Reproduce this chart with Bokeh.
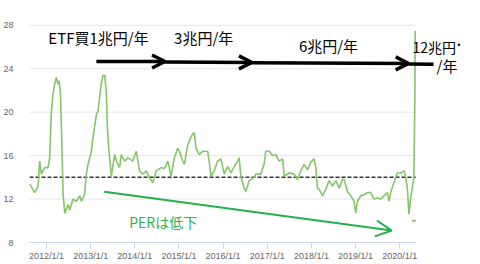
import pandas as pd
from bokeh.plotting import figure
from bokeh.models import Range1d, FixedTicker, Label, Arrow, OpenHead
from bokeh.embed import file_html
from bokeh.resources import INLINE

# ---- data ----
dates = [
    "2011-08-15", "2011-09-26", "2011-10-24", "2011-11-06", "2011-11-20", "2011-12-17",
    "2012-01-14", "2012-01-28", "2012-02-11", "2012-02-25", "2012-03-09", "2012-03-23",
    "2012-04-06", "2012-04-15", "2012-04-26", "2012-05-04", "2012-05-18", "2012-06-01",
    "2012-06-28", "2012-07-12", "2012-08-08", "2012-09-05", "2012-10-02", "2012-10-16",
    "2012-11-12", "2012-11-26", "2012-12-10", "2013-01-07", "2013-01-21", "2013-02-17",
    "2013-03-03", "2013-03-16", "2013-03-30", "2013-04-13", "2013-04-27", "2013-05-11",
    "2013-05-19", "2013-05-30", "2013-06-21", "2013-07-18", "2013-08-01", "2013-08-28",
    "2013-09-11", "2013-10-08", "2013-11-05", "2013-12-16", "2014-01-13", "2014-02-09",
    "2014-03-09", "2014-04-05", "2014-05-02", "2014-05-30", "2014-06-27", "2014-08-07",
    "2014-09-03", "2014-10-01", "2014-10-28", "2014-11-24", "2014-12-22", "2015-01-05",
    "2015-02-02", "2015-02-15", "2015-03-15", "2015-04-11", "2015-04-25", "2015-05-08",
    "2015-05-22", "2015-06-18", "2015-07-17", "2015-08-27", "2015-09-09", "2015-09-23",
    "2015-10-20", "2015-11-17", "2015-12-14", "2016-01-11", "2016-02-08", "2016-03-06",
    "2016-04-02", "2016-04-30", "2016-05-13", "2016-05-27", "2016-06-23", "2016-07-07",
    "2016-08-04", "2016-09-14", "2016-09-28", "2016-11-08", "2016-12-05", "2016-12-19",
    "2017-01-17", "2017-02-14", "2017-03-13", "2017-04-09", "2017-05-08", "2017-05-21",
    "2017-07-01", "2017-08-11", "2017-09-08", "2017-10-05", "2017-11-01", "2017-11-29",
    "2017-12-27", "2018-01-23", "2018-02-06", "2018-02-20", "2018-03-06", "2018-04-03",
    "2018-04-30", "2018-05-27", "2018-06-24", "2018-07-22", "2018-08-18", "2018-09-15",
    "2018-09-28", "2018-10-26", "2018-11-22", "2018-12-19", "2019-01-02", "2019-01-16",
    "2019-02-13", "2019-03-12", "2019-04-09", "2019-05-06", "2019-06-02", "2019-07-01",
    "2019-07-28", "2019-08-24", "2019-09-21", "2019-10-04", "2019-10-18", "2019-11-14",
    "2019-12-12", "2020-01-09", "2020-02-05", "2020-02-19", "2020-03-04", "2020-03-17",
    "2020-03-31", "2020-04-14", "2020-04-27", "2020-05-05", "2020-05-08",
]
per = [
    13.4, 12.6, 13.2, 15.5, 14.3, 14.9,
    14.9, 15.8, 20.1, 21.7, 22.6, 23.2,
    22.6, 22.9, 21.7, 18.6, 12.4, 10.7,
    11.5, 11.0, 12.0, 11.8, 12.3, 11.8,
    12.4, 14.3, 15.2, 16.4, 17.7, 19.8,
    20.1, 21.4, 22.6, 23.4, 23.4, 21.7,
    18.6, 16.7, 14.1, 16.1, 15.5, 14.9,
    16.1, 15.5, 15.8, 15.5, 16.4, 14.6,
    14.3, 14.6, 14.0, 13.5, 14.6, 14.9,
    14.8, 15.5, 14.1, 15.8, 16.7, 16.4,
    15.5, 15.2, 17.0, 17.7, 18.0, 18.1,
    16.7, 16.1, 16.4, 16.4, 15.4, 14.1,
    14.6, 15.5, 15.7, 14.3, 15.0, 14.4,
    15.0, 15.5, 15.8, 14.1, 13.0, 12.7,
    13.7, 14.0, 14.3, 14.3, 15.2, 16.4,
    16.4, 16.0, 16.1, 15.5, 15.7, 14.1,
    14.4, 14.3, 13.8, 14.6, 15.2, 14.7,
    15.4, 15.7, 14.9, 13.0, 12.9, 12.3,
    12.9, 13.7, 13.2, 13.7, 13.0, 13.8,
    13.8, 12.7, 12.3, 11.8, 10.7, 11.8,
    12.3, 12.4, 12.6, 12.6, 12.0, 12.1,
    12.0, 12.3, 12.6, 11.8, 12.6, 13.5,
    14.4, 14.4, 14.6, 14.1, 13.0, 10.6,
    12.1, 13.0, 14.0, 21.0, 27.5,
]
stray_dates = ["2020-04-27"]
stray_values = [10.0]
average_per = 14.0
xtick_labels = ["2012/1/1", "2013/1/1", "2014/1/1", "2015/1/1", "2016/1/1",
                "2017/1/1", "2018/1/1", "2019/1/1", "2020/1/1"]
ytick_values = [8, 12, 16, 20, 24, 28]
period = ("2011-08-14", "2020-05-12")


def ms(s):
    return int(pd.Timestamp(s).value // 10**6)


x = pd.to_datetime(dates)
xticks = [ms(pd.to_datetime(t, format="%Y/%m/%d")) for t in xtick_labels]
t0, t1 = ms(period[0]), ms(period[1])

p = figure(width=480, height=264, x_axis_type="datetime", output_backend="svg",
           toolbar_location=None,
           x_range=Range1d(t0, ms("2021-10-30")),
           y_range=Range1d(8, 29),
           min_border_left=28, min_border_right=0, min_border_top=14, min_border_bottom=22)
p.outline_line_color = None
p.background_fill_color = "white"
p.border_fill_color = "white"

p.xgrid.grid_line_color = None
p.ygrid.grid_line_color = None
# horizontal grid lines limited to the data period
p.segment(x0=[t0] * len(ytick_values), x1=[t1] * len(ytick_values),
          y0=ytick_values, y1=ytick_values, line_color="#e6e6e6", line_width=1,
          level="underlay")

p.yaxis.ticker = FixedTicker(ticks=ytick_values)
p.yaxis.axis_line_color = None
p.yaxis.major_tick_line_color = None
p.yaxis.minor_tick_line_color = None
p.yaxis.major_label_text_font = "Liberation Sans"
p.yaxis.major_label_text_font_size = "9px"
p.yaxis.major_label_text_color = "#666666"
p.yaxis.major_label_standoff = 10

p.xaxis.ticker = FixedTicker(ticks=xticks)
p.xaxis.bounds = (t0, t1)
p.xaxis.major_label_overrides = {t: lab for t, lab in zip(xticks, xtick_labels)}
p.xaxis.axis_line_color = "#ccd6eb"
p.xaxis.major_tick_line_color = "#ccd6eb"
p.xaxis.major_tick_out = 6
p.xaxis.major_tick_in = 0
p.xaxis.minor_tick_line_color = None
p.xaxis.major_label_text_font = "Liberation Sans"
p.xaxis.major_label_text_font_size = "9px"
p.xaxis.major_label_text_color = "#666666"
p.xaxis.major_label_standoff = 2

# average line over the data period
p.line([t0, t1], [average_per, average_per], line_color="#333333",
       line_dash="4 2", line_width=1.5)

p.line(x, per, line_color="#84c56a", line_width=1.6)
p.scatter(pd.to_datetime(stray_dates), stray_values, marker="dash", size=4,
          line_color="#84c56a", line_width=2)

jp = "Noto Sans CJK JP"
for t, d, yv, fs in [("ETF買1兆円/年", "2012-01-17", 26.88, "15px"),
                     ("3兆円/年", "2014-11-22", 26.84, "15px"),
                     ("6兆円/年", "2017-09-19", 26.17, "15px"),
                     ("12兆円", "2020-04-16", 26.05, "14px"),
                     ("/年", "2020-11-01", 24.30, "15px")]:
    p.add_layout(Label(x=ms(d), y=yv, text=t, text_font=jp, text_font_size=fs,
                       text_color="black", text_baseline="middle", text_align="left"))
p.add_layout(Label(x=ms("2021-05-05"), y=26.1, text="•", text_font="DejaVu Sans",
                   text_font_size="8px", text_color="black", text_baseline="middle",
                   text_align="center"))

for a, b, y0, y1, head in [("2013-02-17", "2014-09-08", 24.67, 24.67, True),
                           ("2014-09-08", "2016-08-27", 24.62, 24.58, True),
                           ("2016-08-27", "2020-03-15", 24.55, 24.49, True),
                           ("2020-03-15", "2020-10-07", 24.45, 24.42, False)]:
    p.add_layout(Arrow(x_start=ms(a), y_start=y0, x_end=ms(b), y_end=y1,
                       line_color="black", line_width=3.5,
                       end=OpenHead(size=13, line_width=3.5, line_color="black") if head else None))

p.add_layout(Arrow(x_start=ms("2013-04-23"), y_start=12.67, x_end=ms("2019-10-27"), y_end=9.10,
                   line_color="#22b14c", line_width=2,
                   end=OpenHead(size=16, line_width=2, line_color="#22b14c")))
p.add_layout(Label(x=ms("2013-11-16"), y=9.93, text="PERは低下", text_font=jp,
                   text_font_size="14px", text_color="#2bb350", text_baseline="middle",
                   text_align="left"))

open("out.html", "w").write(file_html(p, INLINE))
